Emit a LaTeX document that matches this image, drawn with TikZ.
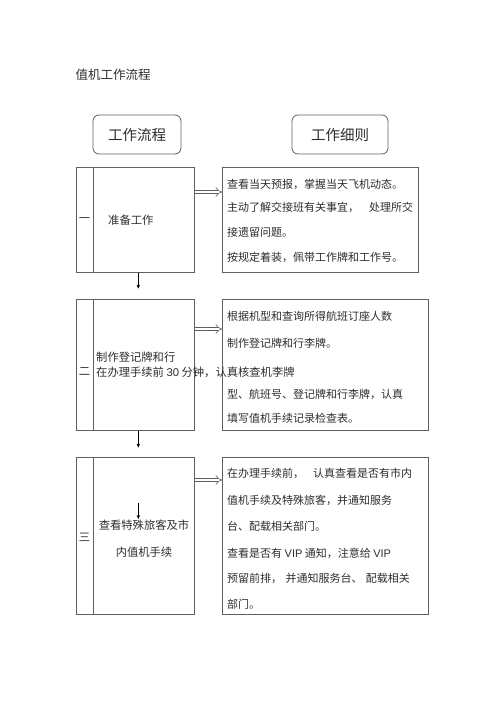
\documentclass[tikz,border=0pt]{standalone}
\usepackage{fontspec}
\setmainfont{Noto Sans CJK SC}
\newfontfamily\latinfont{Liberation Sans}
\usetikzlibrary{arrows.meta}
\definecolor{boxgray}{RGB}{95,95,95}
\definecolor{inkgray}{RGB}{45,45,45}
\begin{document}
\begin{tikzpicture}
[x=1pt,y=-1pt,
  headDecorate/.style={draw=boxgray,thick,rounded corners=6pt,minimum height=39,inner sep=0pt,
    text=inkgray,font=\fontsize{14.5}{16}\selectfont},
  cellDecorate/.style={draw=boxgray,semithick,anchor=north west,inner sep=0pt},
  textDecorate/.style={anchor=west,inner sep=0pt,text=inkgray,font=\fontsize{11}{13}\selectfont},
  stepDecorate/.style={inner sep=0pt,text=inkgray,font=\fontsize{11.3}{13}\selectfont},
  passDecorate/.style={draw=boxgray,double=white,double distance=2.8pt,line width=0.6pt,
    -{Implies[length=5.5pt]}},
  downDecorate/.style={draw=black,line width=0.6pt,-{Stealth[length=4pt,width=3.5pt]}},
  scale=1]
\useasboundingbox (0,0) rectangle (500,708);
%% title
\node (title) at (113,75) [stepDecorate,font=\fontsize{12.5}{14}\selectfont] {值机工作流程};
%% headers
\node (flowHead) at (137,134.5) [headDecorate,minimum width=88] {工作流程};
\node (ruleHead) at (340,134.5) [headDecorate,minimum width=96] {工作细则};
%% cells
\foreach \name/\top/\ht/\dw in {A/167/105/196, B/299/131/206, C/457/157/206}
{
  \node (num\name) at (76,\top) [cellDecorate,minimum width=17,minimum height=\ht] {};
  \node (step\name) at (93,\top) [cellDecorate,minimum width=101,minimum height=\ht] {};
  \node (detail\name) at (222,\top) [cellDecorate,minimum width=\dw,minimum height=\ht] {};
}
%% numbers
\foreach \name/\y/\num in {A/220/一, B/372/二, C/537/三}
{
  \node (label\name) at (84.5,\y) [stepDecorate] {\num};
}
%% steps
\node (stepTextA) at (108,220) [stepDecorate,anchor=west] {准备工作};
\node (stepTextB) at (96,357) [stepDecorate,anchor=west] {制作登记牌和行};
\node (stepTextBB) at (96,372) [stepDecorate,anchor=west]
  {在办理手续前\ {\latinfont 30}\ 分钟，认真核查机李牌};
\node (stepTextC) at (144,525) [stepDecorate] {查看特殊旅客及市};
\node (stepTextCC) at (144,552) [stepDecorate] {内值机手续};
%% details
\foreach \n/\y/\txt in {
  1/184/{查看当天预报，掌握当天飞机动态。},
  2/207/{主动了解交接班有关事宜，\hspace{0.9em}处理所交},
  3/232/{接遗留问题。},
  4/257/{按规定着装，佩带工作牌和工作号。}}
{
  \node (lineA\n) at (227,\y) [textDecorate] {\txt};
}
\foreach \n/\y/\txt in {
  1/316/{根据机型和查询所得航班订座人数},
  2/343/{制作登记牌和行李牌。},
  3/369/{},
  4/394/{型、航班号、登记牌和行李牌，认真},
  5/418/{填写值机手续记录检查表。}}
{
  \node (lineB\n) at (227,\y) [textDecorate] {\txt};
}
\foreach \n/\y/\txt in {
  1/473/{在办理手续前，\hspace{0.8em}认真查看是否有市内},
  2/500/{值机手续及特殊旅客，并通知服务},
  3/526/{台、配载相关部门。},
  4/553/{查看是否有 {\latinfont VIP} 通知，注意给 {\latinfont VIP}},
  5/578/{预留前排，\hspace{0.3em}并通知服务台、\hspace{0.3em}配载相关},
  6/604/{部门。}}
{
  \node (lineC\n) at (227,\y) [textDecorate] {\txt};
}
%% connectors
\foreach \name/\dy in {A/25, B/30, C/23}
{
  \draw[passDecorate] ([yshift=-\dy pt]step\name.north east)
    -- ([yshift=-\dy pt]step\name.north east -| detail\name.west);
}
\draw[downDecorate] ([xshift=-5.5pt]stepA.south) -- ++(0,16);
\draw[downDecorate] ([xshift=-5.5pt]stepB.south) -- ++(0,17);
\draw[downDecorate] ([xshift=-5.5pt,yshift=-46pt]stepC.north) -- ++(0,16);
\end{tikzpicture}
\end{document}
